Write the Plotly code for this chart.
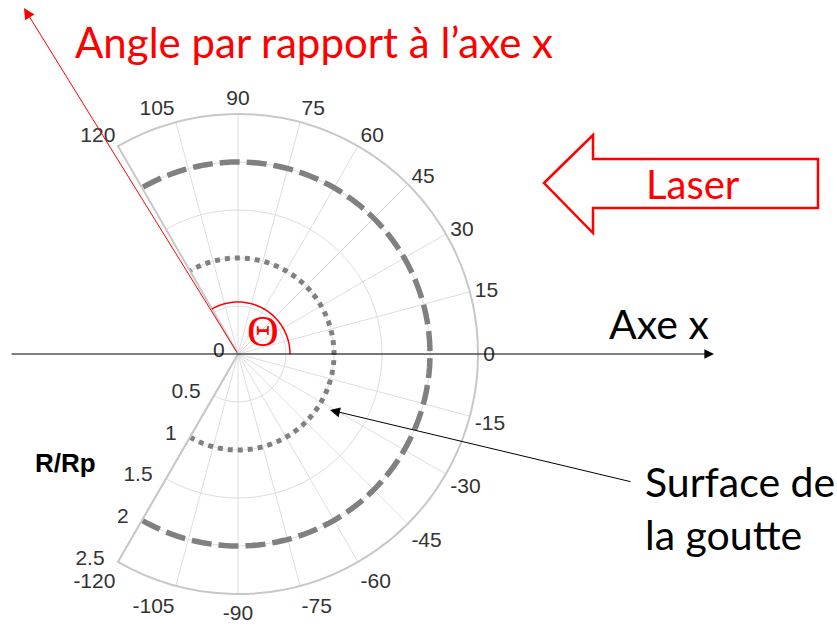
import math
import plotly.graph_objects as go

# ---- data ----
theta_samples = list(range(-120, 121, 2))          # angle samples (deg)
r_inner = [1.0] * len(theta_samples)               # dotted circle R/Rp = 1
r_outer = [2.0] * len(theta_samples)               # dashed circle R/Rp = 2
angle_ticks = [-120, -105, -90, -75, -60, -45, -30, -15, 0, 15, 30, 45, 60, 75, 90, 105, 120]
angle_labels = [str(a) for a in angle_ticks]
radial_ticks = [0, 0.5, 1, 1.5, 2, 2.5]
radial_labels = ["0", "0.5", "1", "1.5", "2", "2.5"]

W, H = 837, 626
def px(x):
    return x / W
def py(y):
    return (H - y) / H

CX, CY, R = 238, 354, 240

fig = go.Figure()
fig.add_trace(go.Scatterpolar(r=r_outer, theta=theta_samples, mode="lines",
                              line=dict(color="#808080", width=5.5, dash="20px,7px"),
                              hoverinfo="skip", showlegend=False))
fig.add_trace(go.Scatterpolar(r=r_inner, theta=theta_samples, mode="lines",
                              line=dict(color="#808080", width=5, dash="5px,5px"),
                              hoverinfo="skip", showlegend=False))

tickfont = dict(family="Liberation Sans, Arial", size=21, color="#333333")
fig.update_layout(
    width=W, height=H,
    margin=dict(l=0, r=0, t=0, b=0),
    paper_bgcolor="white", plot_bgcolor="white",
    showlegend=False,
    polar=dict(
        domain=dict(x=[px(CX - R / 2), px(CX + R)], y=[py(CY + R), py(CY - R)]),
        sector=[-120, 120],
        bgcolor="white",
        angularaxis=dict(
            tickmode="array", tickvals=angle_ticks, ticktext=angle_labels,
            showgrid=True, gridcolor="#dedede", gridwidth=1,
            showline=True, linecolor="#c8c8c8", linewidth=2,
            ticks="", tickfont=tickfont,
            direction="counterclockwise", rotation=0,
        ),
        radialaxis=dict(
            range=[0, 2.5], angle=-120, side="clockwise",
            tickmode="array", tickvals=radial_ticks, ticktext=radial_labels,
            showgrid=True, gridcolor="#dedede", gridwidth=1,
            showline=True, linecolor="#c8c8c8", linewidth=1.5,
            ticks="", tickangle=-120,
            tickfont=tickfont,
        ),
    ),
)

shapes = []
# Laser hollow arrow
laser_pts = [(544, 183), (593, 135), (593, 159), (818, 159), (818, 208), (593, 208), (593, 233)]
path = "M " + " L ".join(f"{px(x)},{py(y)}" for x, y in laser_pts) + " Z"
shapes.append(dict(type="path", xref="paper", yref="paper", path=path,
                   line=dict(color="#ff0000", width=2.5), fillcolor="rgba(0,0,0,0)"))
# Theta arc (pixel-sized relative to center)
arc_r = 52
arc = []
for a in range(0, 123, 3):
    t = math.radians(a)
    arc.append((arc_r * math.cos(t), arc_r * math.sin(t)))
arc_path = "M " + " L ".join(f"{x:.2f},{y:.2f}" for x, y in arc)
shapes.append(dict(type="path", xref="paper", yref="paper", xsizemode="pixel", ysizemode="pixel",
                   xanchor=px(CX), yanchor=py(CY), path=arc_path,
                   line=dict(color="#ff0000", width=1.5)))
fig.update_layout(shapes=shapes)

def arrow(tail, tip, color, width=1, size=1.5):
    return dict(x=px(tip[0]), y=py(tip[1]), xref="paper", yref="paper",
                ax=tail[0] - tip[0], ay=tail[1] - tip[1], axref="pixel", ayref="pixel",
                text="", showarrow=True, arrowhead=2, arrowsize=size, arrowwidth=width,
                arrowcolor=color, standoff=0, startstandoff=0)

ann = [
    arrow((10, CY), (714, CY), "#000000", 1.2, 1.6),
    arrow((CX, CY), (24, 8), "#ff0000", 1, 2.2),
    arrow((632, 482), (330, 410), "#000000", 1, 2.0),
    dict(x=px(73), y=py(42), xref="paper", yref="paper", xanchor="left", yanchor="middle",
         text="Angle par rapport à l’axe x", showarrow=False,
         font=dict(family="Lato", size=42, color="#ff0000")),
    dict(x=px(693), y=py(184), xref="paper", yref="paper", xanchor="center", yanchor="middle",
         text="Laser", showarrow=False, font=dict(family="Lato", size=40, color="#ff0000")),
    dict(x=px(607), y=py(323), xref="paper", yref="paper", xanchor="left", yanchor="middle",
         text="Axe x", showarrow=False, font=dict(family="Lato", size=41, color="#000000")),
    dict(x=px(643), y=py(508), xref="paper", yref="paper", xanchor="left", yanchor="middle",
         text="Surface de<br>la goutte", showarrow=False, align="left",
         font=dict(family="Lato", size=41, color="#000000")),
    dict(x=px(263), y=py(331), xref="paper", yref="paper", xanchor="center", yanchor="middle",
         text="Θ", showarrow=False, font=dict(family="Liberation Serif", size=44, color="#ff0000")),
    dict(x=px(65), y=py(463), xref="paper", yref="paper", xanchor="center", yanchor="middle",
         text="<b>R/Rp</b>", showarrow=False,
         font=dict(family="Liberation Sans, Arial", size=26, color="#000000")),
]
fig.update_layout(annotations=ann)

fig.write_html("out.html", config={"displayModeBar": False},
               post_script="document.body.style.margin='0px';")
